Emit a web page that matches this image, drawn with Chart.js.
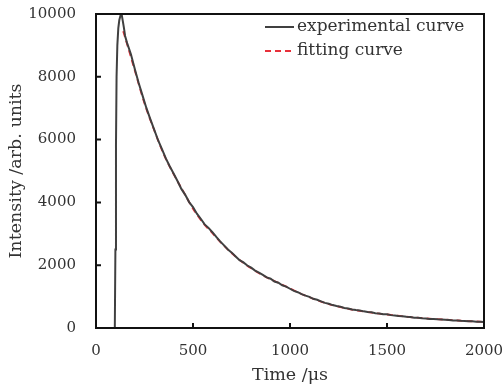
<!DOCTYPE html>
<html lang="en">
<head>
    <meta charset="UTF-8">
    <title>Intensity decay</title>
    <script src="https://cdn.jsdelivr.net/npm/chart.js@4.4.0/dist/chart.umd.min.js"></script>
</head>
<body style="margin:0">
    <canvas id="decayChart" width="503" height="390"></canvas>
    <script>
        // experimental curve (time in us, intensity in arb. units)
        const expTime = [0, 97, 100, 103, 106, 110, 115, 120, 126, 132, 138, 144, 150,
            160, 180, 200, 220, 240, 260, 280, 300, 320, 340, 360, 380, 400, 420, 440, 460, 480,
            500, 520, 540, 560, 580, 600, 620, 640, 660, 680, 700, 720, 740, 760, 780,
            800, 820, 840, 860, 880, 900, 920, 940, 960, 980, 1000, 1020, 1040, 1060, 1080,
            1100, 1120, 1140, 1160, 1180, 1200, 1220, 1240, 1260, 1280, 1300, 1320, 1340, 1360, 1380,
            1400, 1420, 1440, 1460, 1480, 1500, 1520, 1540, 1560, 1580, 1600, 1620, 1640, 1660, 1680,
            1700, 1720, 1740, 1760, 1780, 1800, 1820, 1840, 1860, 1880, 1900, 1920, 1940, 1960, 1980, 2000];
        const expIntensity = [0, 0, 2500, 5800, 8000, 9000, 9550, 9800, 9950, 10000, 9780, 9560, 9300,
            9080, 8720, 8250, 7800, 7400, 7000, 6650, 6320, 5980, 5700, 5400, 5150, 4920, 4680, 4430, 4240, 4010,
            3850, 3640, 3480, 3300, 3190, 3050, 2900, 2760, 2630, 2500, 2400, 2280, 2160, 2090, 1990,
            1920, 1830, 1760, 1690, 1610, 1570, 1480, 1440, 1360, 1320, 1250, 1180, 1140, 1080, 1030,
            990, 930, 900, 850, 800, 770, 730, 700, 680, 640, 620, 590, 570, 555, 530,
            510, 500, 470, 465, 440, 435, 410, 400, 380, 375, 355, 350, 330, 325, 310,
            305, 290, 290, 275, 270, 262, 255, 240, 240, 228, 225, 215, 212, 200, 198, 190];

        // fitting curve
        const fitTime = [140, 150, 200, 250, 300, 350, 400, 450, 500, 550, 600, 650, 700, 750,
            800, 850, 900, 950, 1000, 1050, 1100, 1150, 1200, 1250, 1300, 1350, 1400, 1450,
            1500, 1550, 1600, 1650, 1700, 1750, 1800, 1850, 1900, 1950, 2000];
        const fitIntensity = [9450, 9250, 8200, 7150, 6300, 5520, 4900, 4350, 3800, 3360, 3020, 2680, 2380, 2120,
            1900, 1710, 1550, 1410, 1260, 1110, 980, 860, 760, 680, 610, 555, 505, 465,
            430, 395, 360, 330, 305, 285, 265, 245, 225, 210, 195];

        const xTicks = [0, 500, 1000, 1500, 2000];
        const yTicks = [0, 2000, 4000, 6000, 8000, 10000];

        const serif = '"DejaVu Serif", serif';
        Chart.defaults.font.family = serif;

        // legend inside the plot, then the box and the inward tick marks
        const decorations = {
            id: 'decorations',
            afterDraw(chart) {
                const ctx = chart.ctx;
                const a = chart.chartArea;
                ctx.save();
                ctx.font = '17px ' + serif;
                ctx.textBaseline = 'middle';
                chart.data.datasets.forEach((ds, i) => {
                    const y = a.top + 13 + i * 24;
                    const x0 = a.right - 219;
                    ctx.fillStyle = '#333';
                    ctx.fillText(ds.label, a.right - 187, y);
                    ctx.strokeStyle = ds.borderColor;
                    ctx.lineWidth = 2;
                    ctx.setLineDash(ds.borderDash || []);
                    ctx.beginPath();
                    ctx.moveTo(x0, y);
                    ctx.lineTo(x0 + 29, y);
                    ctx.stroke();
                });

                ctx.setLineDash([]);
                ctx.strokeStyle = '#111111';
                ctx.lineWidth = 2;
                ctx.beginPath();
                ctx.moveTo(a.left, a.top);
                ctx.lineTo(a.right, a.top);
                ctx.lineTo(a.right, a.bottom);
                ctx.lineTo(a.left, a.bottom);
                ctx.closePath();
                xTicks.forEach(v => {
                    const px = chart.scales.x.getPixelForValue(v);
                    ctx.moveTo(px, a.bottom);
                    ctx.lineTo(px, a.bottom - 5);
                });
                yTicks.forEach(v => {
                    const py = chart.scales.y.getPixelForValue(v);
                    ctx.moveTo(a.left, py);
                    ctx.lineTo(a.left + 5, py);
                });
                ctx.stroke();
                ctx.restore();
            }
        };

        new Chart(document.getElementById('decayChart'), {
            type: 'line',
            data: {
                datasets: [
                    {
                        label: 'experimental curve',
                        data: expTime.map((t, i) => ({ x: t, y: expIntensity[i] })),
                        borderColor: '#404040',
                        borderWidth: 2,
                        pointRadius: 0
                    },
                    {
                        label: 'fitting curve',
                        data: fitTime.map((t, i) => ({ x: t, y: fitIntensity[i] })),
                        borderColor: '#e8303a',
                        borderWidth: 1.8,
                        borderDash: [6, 4],
                        pointRadius: 0,
                        cubicInterpolationMode: 'monotone'
                    }
                ]
            },
            options: {
                responsive: false,
                animation: false,
                layout: { padding: { top: 14, right: 19, left: 0, bottom: 0 } },
                plugins: { legend: { display: false }, tooltip: { enabled: false } },
                scales: {
                    x: {
                        type: 'linear',
                        min: 0,
                        max: 2000,
                        afterBuildTicks: s => { s.ticks = xTicks.map(v => ({ value: v })); },
                        afterFit: s => { s.height = 62; s.paddingLeft = 0; s.paddingRight = 0; },
                        grid: { display: false },
                        border: { display: true, color: '#111111', width: 2 },
                        ticks: { padding: 6, color: '#333', font: { size: 15 }, maxRotation: 0, callback: v => String(v) },
                        title: { display: true, text: 'Time /μs', color: '#333', font: { size: 17.5 }, padding: { top: 0 } }
                    },
                    y: {
                        min: 0,
                        max: 10000,
                        afterBuildTicks: s => { s.ticks = yTicks.map(v => ({ value: v })); },
                        afterFit: s => { s.width = 96; s.paddingTop = 0; s.paddingBottom = 0; },
                        grid: { display: false },
                        border: { display: true, color: '#111111', width: 2 },
                        ticks: { padding: 12, color: '#333', font: { size: 15 }, callback: v => String(v) },
                        title: { display: true, text: 'Intensity /arb. units', color: '#333', font: { size: 17.5 }, padding: { top: 6, bottom: 2 } }
                    }
                }
            },
            plugins: [decorations]
        });
    </script>
</body>
</html>
